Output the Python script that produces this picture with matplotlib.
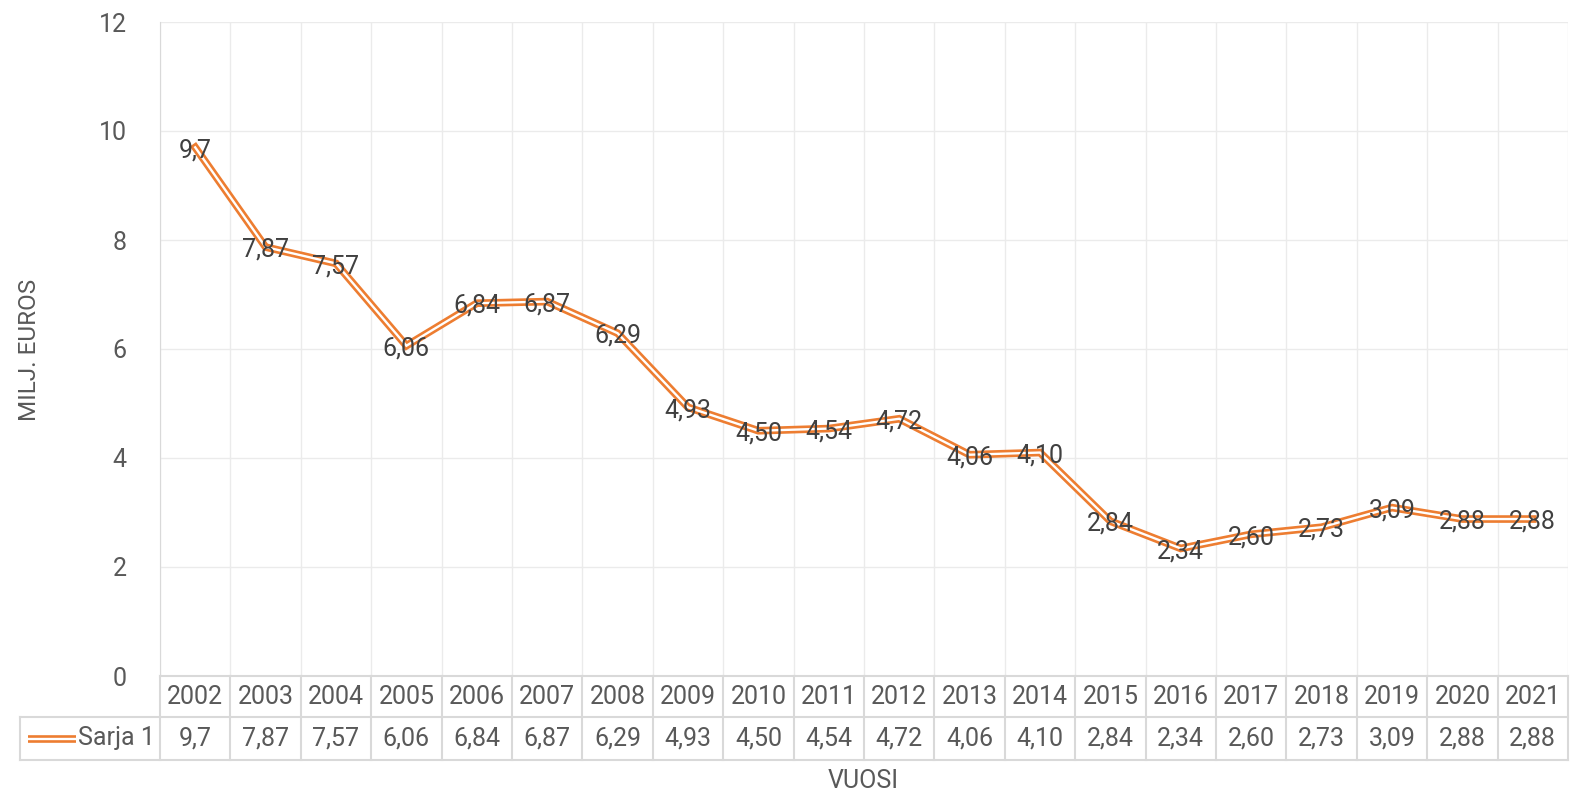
import matplotlib.pyplot as plt
import matplotlib.transforms as mtransforms

years = ['2002', '2003', '2004', '2005', '2006', '2007', '2008', '2009', '2010', '2011',
         '2012', '2013', '2014', '2015', '2016', '2017', '2018', '2019', '2020', '2021']
values = [9.7, 7.87, 7.57, 6.06, 6.84, 6.87, 6.29, 4.93, 4.50, 4.54,
          4.72, 4.06, 4.10, 2.84, 2.34, 2.60, 2.73, 3.09, 2.88, 2.88]
value_labels = ['9,7', '7,87', '7,57', '6,06', '6,84', '6,87', '6,29', '4,93', '4,50', '4,54',
                '4,72', '4,06', '4,10', '2,84', '2,34', '2,60', '2,73', '3,09', '2,88', '2,88']
series_name = 'Sarja 1'

ORANGE = '#ED7D31'
TEXT = '#595959'
GRID = '#EBEBEB'
BORDER = '#D9D9D9'
FS = 18

plt.rcParams['font.family'] = ['Roboto', 'DejaVu Sans']

fig = plt.figure(figsize=(15.74, 7.98), dpi=100)
ax = fig.add_axes([160 / 1574, 1 - 676 / 798, 1408 / 1574, 654 / 798])

x = list(range(len(years)))
# double line: thick orange with a thin white core
ax.plot(x, values, color=ORANGE, lw=5.5, solid_joinstyle='miter', zorder=3)
ax.plot(x, values, color='white', lw=1.7, solid_joinstyle='miter', zorder=4)

for xi, v, lab in zip(x, values, value_labels):
    ax.text(xi, v - 0.05, lab, ha='center', va='center', fontsize=FS, color='#404040', zorder=5)

ax.set_xlim(-0.5, len(years) - 0.5)
ax.set_ylim(0, 12)
ax.set_yticks(range(0, 13, 2))
ax.set_yticklabels([str(t) for t in range(0, 13, 2)], fontsize=FS, color=TEXT)
ax.tick_params(axis='y', length=0, pad=24)
ax.set_xticks([])

for y in range(2, 13, 2):
    ax.axhline(y, color=GRID, lw=1, zorder=1)
for xb in range(len(years) + 1):
    ax.axvline(xb - 0.5, color=GRID, lw=1, zorder=1)

for s in ['top', 'right', 'bottom']:
    ax.spines[s].set_visible(False)
ax.spines['left'].set_color(BORDER)

# data table under the plot
tr = mtransforms.blended_transform_factory(ax.transData, ax.transAxes)
h1 = -41 / 654
h2 = -84 / 654
left = -0.5 - 140 / 70.4
right = len(years) - 0.5
line_kw = dict(color=BORDER, lw=1.5, transform=tr, clip_on=False)
ax.plot([-0.5, right], [0, 0], **line_kw)
ax.plot([left, right], [h1, h1], **line_kw)
ax.plot([left, right], [h2, h2], **line_kw)
ax.plot([left, left], [h1, h2], **line_kw)
for xb in range(len(years) + 1):
    ax.plot([xb - 0.5, xb - 0.5], [0, h2], **line_kw)

for xi, yr, lab in zip(x, years, value_labels):
    ax.text(xi, h1 / 2, yr, ha='center', va='center', fontsize=FS, color=TEXT,
            transform=tr, clip_on=False)
    ax.text(xi, (h1 + h2) / 2, lab, ha='center', va='center', fontsize=FS, color=TEXT,
            transform=tr, clip_on=False)

# legend key inside the table
key_y = (h1 + h2) / 2
kx0 = left + 8 / 70.4
kx1 = left + 56 / 70.4
ax.plot([kx0, kx1], [key_y, key_y], color=ORANGE, lw=5.5, transform=tr, clip_on=False,
        solid_capstyle='butt')
ax.plot([kx0, kx1], [key_y, key_y], color='white', lw=1.7, transform=tr, clip_on=False,
        solid_capstyle='butt')
ax.text(kx1 + 2 / 70.4, key_y, series_name, ha='left', va='center', fontsize=FS, color=TEXT,
        transform=tr, clip_on=False)

fig.text(863 / 1574, 1 - 781 / 798, 'VUOSI', ha='center', va='center', fontsize=18, color=TEXT)
fig.text(30 / 1574, 1 - 350 / 798, 'MILJ. EUROS', ha='center', va='center', rotation=90,
         fontsize=17.5, color=TEXT)

fig.savefig('out.png', dpi=100)
